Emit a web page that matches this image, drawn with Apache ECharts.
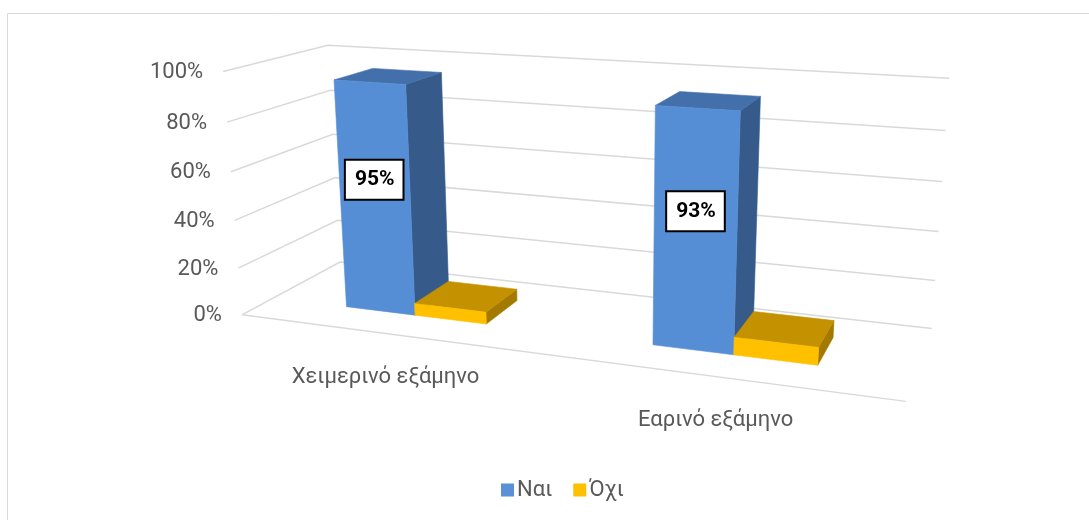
<!DOCTYPE html>
<html><head><meta charset="utf-8">
<script src="https://cdn.jsdelivr.net/npm/echarts@6/dist/echarts.min.js"></script>
<style>html,body{margin:0;padding:0;background:#fff}#chart{width:1089px;height:520px}</style>
</head><body><div id="chart"></div>
<script>
// ---------------- data ----------------
const categories = ['Χειμερινό εξάμηνο', 'Εαρινό εξάμηνο'];
const seriesNames = ['Ναι', 'Όχι'];
const yesValues = [95, 93];
const noValues = [5, 7];
const yTicks = [0, 20, 40, 60, 80, 100];
const yTickLabels = ['0%', '20%', '40%', '60%', '80%', '100%'];

// ---------------- layout (perspective frame) ----------------
// world coords: X across floor 0..1, Y value 0..1, Z depth 0 (front) .. 1 (back)
// screen positions of the frame corners / wall edges used to fit the camera
const FRAME_CALIB = [
  [0, 1, 0, 223, 72], [0, 0.8, 0, 227, 122], [0, 0.6, 0, 231, 172],
  [0, 0.4, 0, 235, 220], [0, 0.2, 0, 238, 268], [0, 0, 0, 242, 315],
  [0, 1, 1, 328, 45], [0, 0, 1, 340, 262],
  [1, 1, 1, 949, 78], [1, 0.8, 1, 946, 130], [1, 0.6, 1, 942, 182],
  [1, 0.4, 1, 938, 232], [1, 0.2, 1, 935, 280], [1, 0, 1, 932, 329],
  [1, 0, 0, 906, 401]
];
const BAR_DEPTH = [0.3, 0.7];
const GAP_WIDTH = 2.2;
const LABEL_HEIGHT_FRACTION = 0.585;
const FONT = 'Roboto, "Noto Sans", sans-serif';
const FONT_SIZE = 22;
const TEXT_COLOR = '#595959';
const GRID_COLOR = '#d9d9d9';
const BAR_COLORS = [
  { front: '#568ED6', top: '#436FAA', side: '#365B8B', legend: '#5B8FD6' },
  { front: '#FFC000', top: '#C49200', side: '#A37900', legend: '#FFC000' }
];

function fitProjection(pts) {
  const A = [], b = [];
  for (const [X, Y, Z, u, v] of pts) {
    A.push([X, Y, Z, 1, 0, 0, 0, 0, -u * X, -u * Y, -u * Z]); b.push(u);
    A.push([0, 0, 0, 0, X, Y, Z, 1, -v * X, -v * Y, -v * Z]); b.push(v);
  }
  const n = 11;
  const M = Array.from({ length: n }, () => new Array(n + 1).fill(0));
  for (let r = 0; r < A.length; r++) {
    for (let i = 0; i < n; i++) {
      for (let j = 0; j < n; j++) M[i][j] += A[r][i] * A[r][j];
      M[i][n] += A[r][i] * b[r];
    }
  }
  for (let c = 0; c < n; c++) {
    let piv = c;
    for (let r = c + 1; r < n; r++) if (Math.abs(M[r][c]) > Math.abs(M[piv][c])) piv = r;
    [M[c], M[piv]] = [M[piv], M[c]];
    for (let r = 0; r < n; r++) {
      if (r === c) continue;
      const f = M[r][c] / M[c][c];
      for (let k = c; k <= n; k++) M[r][k] -= f * M[c][k];
    }
  }
  return M.map((row, i) => row[n] / row[i]);
}
const PM = fitProjection(FRAME_CALIB);
function P(X, Y, Z) {
  const w = PM[8] * X + PM[9] * Y + PM[10] * Z + 1;
  return [(PM[0] * X + PM[1] * Y + PM[2] * Z + PM[3]) / w,
          (PM[4] * X + PM[5] * Y + PM[6] * Z + PM[7]) / w];
}

function normY(params, api, v) {
  const cs = params.coordSys;
  const p = api.coord([0, v]);
  return (cs.y + cs.height - p[1]) / cs.height;
}

function renderGrid(params, api) {
  const Y = normY(params, api, api.value(1));
  const a = P(0, Y, 0), b = P(0, Y, 1), c = P(1, Y, 1);
  const children = [
    { type: 'polyline', shape: { points: [a, b, c] }, style: { stroke: GRID_COLOR, lineWidth: 1.5, fill: null } },
    { type: 'text', x: a[0] - 20, y: a[1] + 1,
      style: { text: yTickLabels[params.dataIndex], align: 'right', verticalAlign: 'middle', fill: TEXT_COLOR, fontSize: FONT_SIZE, fontFamily: FONT } }
  ];
  if (api.value(1) === 0) {
    const d = P(1, 0, 0);
    children.push({ type: 'line', shape: { x1: a[0], y1: a[1], x2: d[0], y2: d[1] }, style: { stroke: GRID_COLOR, lineWidth: 1.5 } });
  }
  return { type: 'group', children };
}

function renderCatLabel(params, api) {
  const cs = params.coordSys;
  const p = api.coord([api.value(0), 0]);
  const X = (p[0] - cs.x) / cs.width;
  const q = P(X, 0, 0);
  return { type: 'text', x: q[0] - 2, y: q[1] + 44,
    style: { text: categories[params.dataIndex], align: 'center', verticalAlign: 'middle', fill: TEXT_COLOR, fontSize: FONT_SIZE, fontFamily: FONT } };
}

function makeBarRender(si, withLabel) {
  const col = BAR_COLORS[si];
  return function (params, api) {
    const cs = params.coordSys;
    const cat = api.value(0), val = api.value(1);
    const pc = api.coord([cat, 0]);
    const pv = api.coord([cat, val]);
    const band = api.size([1, 0])[0] / cs.width;
    const xc = (pc[0] - cs.x) / cs.width;
    const w = band / (seriesNames.length + GAP_WIDTH);
    const x0 = xc - w * seriesNames.length / 2 + si * w, x1 = x0 + w;
    const h = (cs.y + cs.height - pv[1]) / cs.height;
    const z0 = BAR_DEPTH[0], z1 = BAR_DEPTH[1];
    const poly = (pts, fill) => ({ type: 'polygon', shape: { points: pts.map(q => P(q[0], q[1], q[2])) },
      style: { fill: fill, stroke: fill, lineWidth: 0.6 } });
    const children = [
      poly([[x1, 0, z0], [x1, 0, z1], [x1, h, z1], [x1, h, z0]], col.side),
      poly([[x0, h, z0], [x1, h, z0], [x1, h, z1], [x0, h, z1]], col.top),
      poly([[x0, 0, z0], [x1, 0, z0], [x1, h, z0], [x0, h, z0]], col.front)
    ];
    if (withLabel) {
      const lp = P((x0 + x1) / 2, h * LABEL_HEIGHT_FRACTION, z0);
      children.push({ type: 'text', x: lp[0], y: lp[1],
        style: { text: Math.round(val) + '%', align: 'center', verticalAlign: 'middle', fill: '#000',
          fontSize: 21, fontWeight: 'bold', fontFamily: FONT, backgroundColor: '#fff',
          borderColor: '#000', borderWidth: 2, padding: [9, 8, 8, 9] } });
    }
    return { type: 'group', children };
  };
}

const chart = echarts.init(document.getElementById('chart'), null, { renderer: 'canvas' });
chart.setOption({
  animation: false,
  backgroundColor: '#fff',
  grid: { left: 100, right: 100, top: 50, bottom: 100 },
  xAxis: { type: 'category', data: categories, show: false, boundaryGap: true },
  yAxis: { type: 'value', min: 0, max: 100, interval: 20, show: false },
  legend: {
    data: seriesNames, left: 501, top: 479, padding: 0, icon: 'rect',
    itemWidth: 13, itemHeight: 13, itemGap: 21,
    textStyle: { color: TEXT_COLOR, fontSize: FONT_SIZE, fontFamily: FONT, padding: [0, 0, 0, -2] }
  },
  graphic: [{ type: 'rect', silent: true, shape: { x: 7.5, y: 13.5, width: 1100, height: 520 },
    style: { fill: null, stroke: '#d9d9d9', lineWidth: 1 } }],
  series: [
    { type: 'custom', name: '_grid', renderItem: renderGrid, data: yTicks.map(t => [0, t]), z: 1, silent: true },
    { type: 'custom', name: '_cats', renderItem: renderCatLabel, data: categories.map((c, i) => [i, 0]), z: 1, silent: true },
    { type: 'custom', name: seriesNames[0], renderItem: makeBarRender(0, true), itemStyle: { color: BAR_COLORS[0].legend },
      data: yesValues.map((v, i) => [i, v]), z: 2 },
    { type: 'custom', name: seriesNames[1], renderItem: makeBarRender(1, false), itemStyle: { color: BAR_COLORS[1].legend },
      data: noValues.map((v, i) => [i, v]), z: 3 }
  ]
});
</script></body></html>
